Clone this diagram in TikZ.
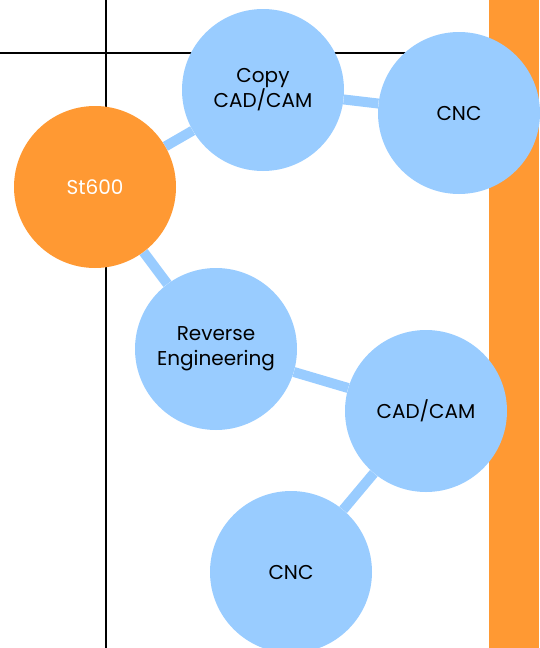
\documentclass[tikz,border=0pt]{standalone}
\usepackage{fontspec}
\setmainfont{Poppins}
\usetikzlibrary{backgrounds}
\definecolor{bubbleblue}{HTML}{99CCFF}
\definecolor{storange}{HTML}{FF9933}

\begin{document}
\begin{tikzpicture}[x=1pt, y=-1pt,
    bubble/.style={circle, fill=bubbleblue, minimum size=162pt, inner sep=0pt,
                   align=center, font=\fontsize{20}{25}\selectfont, text=black},
    hub/.style={bubble, fill=storange, text=white},
    link/.style={bubbleblue, line width=10pt}]
  \useasboundingbox (0,0) rectangle (539,648);
  \node[hub]    (st)   at (95,187)  {St600};
  \node[bubble] (copy) at (263,90)  {Copy\\CAD/CAM};
  \node[bubble] (cnca) at (459,113) {CNC};
  \node[bubble] (rev)  at (216,349) {Reverse\\Engineering};
  \node[bubble] (cad)  at (426,411) {CAD/CAM};
  \node[bubble] (cncb) at (291,572) {CNC};
  \begin{scope}[on background layer]
    \fill[storange] (489,0) rectangle (539,648);
    \coordinate (vtop) at (106,0);
    \coordinate (vbot) at (106,648);
    \coordinate (hleft) at (0,53);
    \coordinate (hright) at (420,53);
    \draw[line width=2.2pt] (vtop) -- (vbot);
    \draw[line width=2.2pt] (hleft) -- (hright);
    \draw[link] (st) -- (copy);
    \draw[link] (copy) -- (cnca);
    \draw[link] (st) -- (rev);
    \draw[link] (rev) -- (cad);
    \draw[link] (cad) -- (cncb);
  \end{scope}
\end{tikzpicture}
\end{document}
